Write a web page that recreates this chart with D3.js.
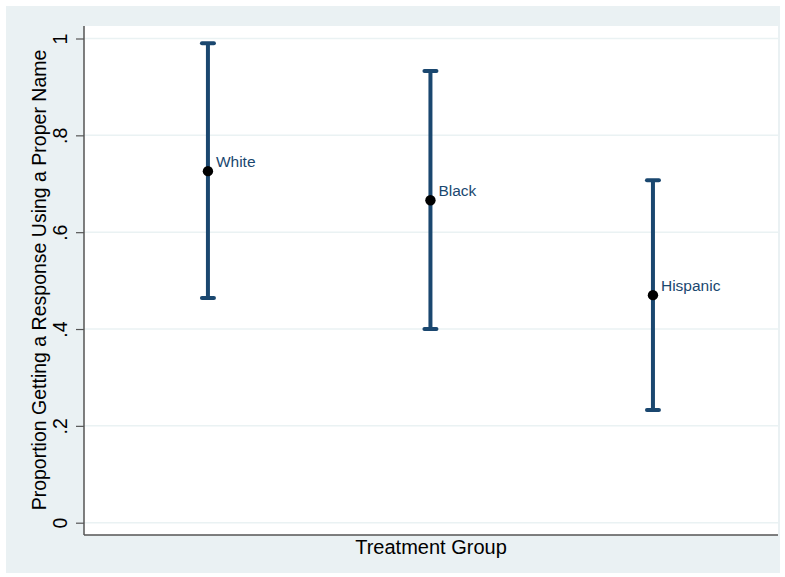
<!DOCTYPE html>
<html>
<head>
<meta charset="utf-8">
<script src="https://cdn.jsdelivr.net/npm/d3@7"></script>
<style>
  body { margin: 0; background: #ffffff; }
  text { font-family: "Liberation Sans", Arial, sans-serif; }
</style>
</head>
<body>
<div id="main_div"></div>
<script>
var SVG_WIDTH = 785;
var SVG_HEIGHT = 577;

// Data
var groups = ["White", "Black", "Hispanic"];
var means = [0.726, 0.666, 0.470];
var lowers = [0.464, 0.400, 0.233];
var uppers = [0.990, 0.933, 0.707];
var y_ticks = [0, 0.2, 0.4, 0.6, 0.8, 1];
var y_tick_labels = ["0", ".2", ".4", ".6", ".8", "1"];

var NAVY = "#1a476f";

var svg = d3.select("#main_div").append("svg")
            .attr("width", SVG_WIDTH)
            .attr("height", SVG_HEIGHT);

// outer graph region
svg.append("rect")
    .attr("x", 6).attr("y", 6)
    .attr("width", 774).attr("height", 567)
    .style("fill", "#eaf1f3");

// plot region
var plot = {left: 84, right: 778, top: 26, bottom: 535};
svg.append("rect")
    .attr("x", plot.left).attr("y", plot.top)
    .attr("width", plot.right - plot.left).attr("height", plot.bottom - plot.top)
    .style("fill", "#ffffff");

var x = d3.scaleLinear().domain([0.443, 3.562]).range([plot.left, plot.right]);
var y = d3.scaleLinear().domain([0, 1]).range([522.7, 38.5]);

// gridlines
svg.append("g").selectAll("line")
    .data(y_ticks).enter()
  .append("line")
    .attr("x1", plot.left).attr("x2", plot.right)
    .attr("y1", function(d) { return y(d); })
    .attr("y2", function(d) { return y(d); })
    .style("stroke", "#eaf2f3")
    .style("stroke-width", 1.5);

// y axis
var y_axis = d3.axisLeft(y)
                .tickValues(y_ticks)
                .tickSize(8)
                .tickFormat(function(d, i) { return y_tick_labels[i]; });
var y_axis_g = svg.append("g")
                .attr("transform", "translate(" + plot.left + ",0)")
                .call(y_axis);
y_axis_g.select(".domain").remove();
y_axis_g.selectAll(".tick line").style("stroke", "#555").style("stroke-width", 1.2);
y_axis_g.selectAll(".tick text")
    .attr("x", 0).attr("y", 0).attr("dy", null)
    .attr("transform", "translate(-17,0) rotate(-90)")
    .style("text-anchor", "middle")
    .style("font-size", "19.5px")
    .style("fill", "#000");

// axis lines
svg.append("line")
    .attr("x1", plot.left).attr("x2", plot.left)
    .attr("y1", plot.top).attr("y2", plot.bottom)
    .style("stroke", "#555").style("stroke-width", 1.5);
svg.append("line")
    .attr("x1", plot.left).attr("x2", plot.right)
    .attr("y1", plot.bottom).attr("y2", plot.bottom)
    .style("stroke", "#555").style("stroke-width", 1.5);

// error bars
var bars = svg.append("g").selectAll("g")
    .data(groups).enter()
  .append("g");

bars.append("line")
    .attr("x1", function(d, i) { return x(i + 1); })
    .attr("x2", function(d, i) { return x(i + 1); })
    .attr("y1", function(d, i) { return y(lowers[i]); })
    .attr("y2", function(d, i) { return y(uppers[i]); })
    .style("stroke", NAVY).style("stroke-width", 4);

[lowers, uppers].forEach(function(arr) {
  bars.append("line")
      .attr("x1", function(d, i) { return x(i + 1) - 6; })
      .attr("x2", function(d, i) { return x(i + 1) + 6; })
      .attr("y1", function(d, i) { return y(arr[i]); })
      .attr("y2", function(d, i) { return y(arr[i]); })
      .style("stroke", NAVY).style("stroke-width", 4)
      .style("stroke-linecap", "round");
});

bars.append("circle")
    .attr("cx", function(d, i) { return x(i + 1); })
    .attr("cy", function(d, i) { return y(means[i]); })
    .attr("r", 5.2)
    .style("fill", "#000");

bars.append("text")
    .attr("x", function(d, i) { return x(i + 1) + 8; })
    .attr("y", function(d, i) { return y(means[i]) - 4; })
    .style("font-size", "15.5px")
    .style("fill", NAVY)
    .text(function(d) { return d; });

// axis titles
svg.append("text")
    .attr("x", (plot.left + plot.right) / 2 - 0)
    .attr("y", 554)
    .style("text-anchor", "middle")
    .style("font-size", "20px")
    .style("fill", "#000")
    .text("Treatment Group");

svg.append("text")
    .attr("transform", "translate(46,280) rotate(-90)")
    .style("text-anchor", "middle")
    .style("font-size", "19.5px")
    .style("fill", "#000")
    .text("Proportion Getting a Response Using a Proper Name");
</script>
</body>
</html>
